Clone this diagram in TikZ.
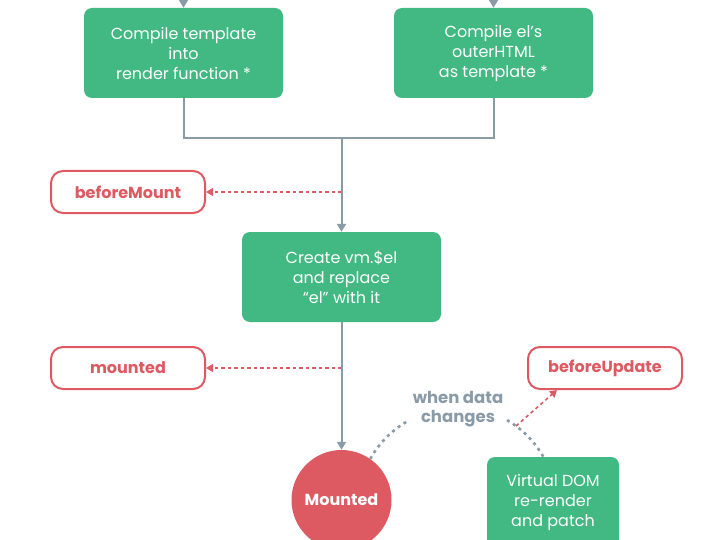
\documentclass[tikz,border=0pt]{standalone}
\usepackage{fontspec}
\setmainfont{Poppins}
\usetikzlibrary{arrows.meta}

\definecolor{vuegreen}{RGB}{66,185,131}
\definecolor{hookred}{RGB}{221,90,98}
\definecolor{flowgray}{RGB}{138,155,168}

\tikzset{
  stepbox/.style={fill=vuegreen, rounded corners=8pt, minimum width=199pt, minimum height=90pt,
    inner sep=0pt, text=white, align=center, font=\fontsize{16}{20}\selectfont},
  hookbox/.style={draw=hookred, line width=2pt, rounded corners=12pt, fill=white,
    minimum width=154pt, minimum height=42pt, text=hookred, font=\bfseries\fontsize{16}{19}\selectfont},
  flow/.style={draw=flowgray, line width=2pt, -{Triangle[width=9pt,length=8pt]}},
  flowline/.style={draw=flowgray, line width=2pt},
  hookcall/.style={draw=hookred, line width=1.6pt, dash pattern=on 3.5pt off 3pt, -{Triangle[width=8pt,length=7pt]}},
  loopline/.style={draw=flowgray, line width=2.6pt, dash pattern=on 3pt off 4pt},
}

\begin{document}
\begin{tikzpicture}[x=1pt,y=-1pt]
\useasboundingbox (0,0) rectangle (701,540);
\clip (0,0) rectangle (701,540);

% Compile boxes
\node[stepbox] (compile) at (183.5,53) {Compile template\\into\\render function *};
\node[stepbox] (outerhtml) at (493.5,53) {Compile el’s\\outerHTML\\as template *};
\coordinate (fromleft) at (183.5,-10);
\coordinate (fromright) at (493.5,-10);
\draw[flow] (fromleft) -- (compile);
\draw[flow] (fromright) -- (outerhtml);

% join of both branches
\coordinate (join) at (341.5,138);
\draw[flowline] (compile.south) |- (join) -| (outerhtml.south);

% Create vm.$el
\node[stepbox] (create) at (341.5,277) {Create vm.\$el\\and replace\\“el” with it};
\draw[flow] (join) -- (create);

% hooks
\node[hookbox] (beforemount) at (128,192) {beforeMount};
\node[hookbox] (mounted) at (128,368) {mounted};
\node[hookbox] (beforeupdate) at (605,368) {beforeUpdate};
\draw[hookcall] (join |- beforemount) -- (beforemount);
\draw[hookcall] (join |- mounted) -- (mounted);

% Mounted state
\node[circle, fill=hookred, minimum size=100pt, inner sep=0pt, text=white,
  font=\bfseries\fontsize{16}{19}\selectfont] (mountedstate) at (341.5,500) {Mounted};
\draw[flow] (create) -- (mountedstate);

% update loop
\node[text=flowgray, align=center, font=\bfseries\fontsize{16.5}{19}\selectfont] (datachange) at (458,409) {when data\\changes};
\node[stepbox, minimum width=132pt] (vdom) at (553,502) {Virtual DOM\\re-render\\and patch};
\coordinate (loopc) at (458,505);
\coordinate (updatefork) at (516,426);
\draw[loopline] (mountedstate.55) arc[start angle=-151, end angle=-120, radius=98];
\draw[loopline] (loopc) ++(-60:98) arc[start angle=-60, end angle=-29, radius=98];
\draw[hookcall] (updatefork) -- ([xshift=30pt]beforeupdate.south west);

\end{tikzpicture}
\end{document}
